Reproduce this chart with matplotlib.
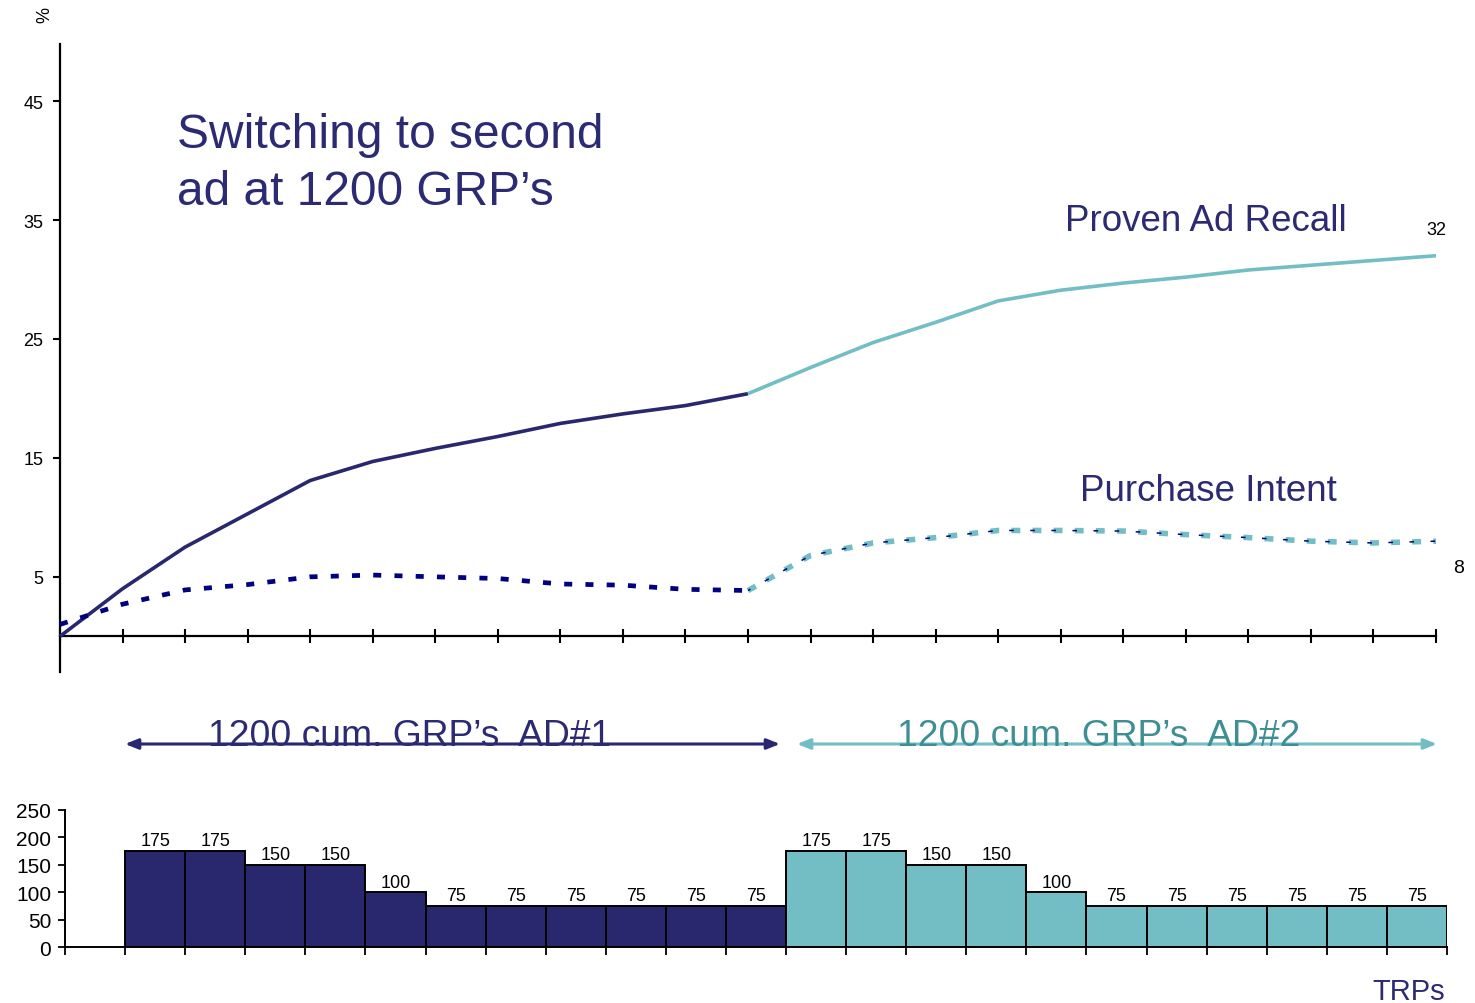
import numpy as np
import matplotlib
matplotlib.use('Agg')
import matplotlib.pyplot as plt
from matplotlib.patches import FancyArrowPatch

plt.rcParams['font.family'] = ['Liberation Sans', 'DejaVu Sans']

# --- data ---
weeks = np.arange(23)
recall_ad1 = [0, 4.0, 7.5, 10.3, 13.1, 14.7, 15.8, 16.8, 17.9, 18.7, 19.4, 20.4]
recall_ad2 = [20.4, 22.6, 24.7, 26.4, 28.2, 29.1, 29.7, 30.2, 30.8, 31.2, 31.6, 32.0]
intent_ad1 = [1.0, 2.7, 3.9, 4.35, 5.0, 5.15, 5.0, 4.86, 4.4, 4.3, 3.95, 3.85]
intent_ad2 = [3.85, 6.8, 7.85, 8.3, 8.9, 8.9, 8.85, 8.55, 8.3, 8.0, 7.85, 8.0]

trps_ad1 = [175, 175, 150, 150, 100, 75, 75, 75, 75, 75, 75]
trps_ad2 = [175, 175, 150, 150, 100, 75, 75, 75, 75, 75, 75]

y_ticks_top = [5, 15, 25, 35, 45]
y_ticks_bar = [0, 50, 100, 150, 200, 250]

NAVY = '#29286f'
NAVY_DASH = '#000080'
TEAL = '#73bec4'
TEAL_TEXT = '#3e8f94'
TITLE = '#2b2a73'

W, H = 1475, 1004
fx = lambda x: x / W
fy = lambda y: 1 - y / H

fig = plt.figure(figsize=(W / 100, H / 100), dpi=100)
fig.patch.set_facecolor('white')

# ---------------- top: recall / intent lines ----------------
ax = fig.add_axes([fx(60), fy(673), fx(1436) - fx(60), fy(45) - fy(673)])
ax.set_xlim(0, 22)
ax.set_ylim(-3, 49.8)

x1 = weeks[:12]
x2 = weeks[11:]
ax.plot(x1, recall_ad1, color=NAVY, lw=2.6, solid_capstyle='butt', clip_on=False, zorder=3)
ax.plot(x2, recall_ad2, color=TEAL, lw=2.6, solid_capstyle='butt', clip_on=False, zorder=3)

ax.plot(x1, intent_ad1, color=NAVY_DASH, lw=3.4, linestyle=(0, (1.7, 2.8)),
        dash_capstyle='butt', clip_on=False, zorder=3)
ax.plot(x2, intent_ad2, color=TEAL, lw=4.0, linestyle=(0, (1.6, 2.2)),
        dash_capstyle='butt', clip_on=False, zorder=3)
ax.plot(x2, intent_ad2, color=NAVY_DASH, lw=1.1, linestyle=(15.0, (3.0, 10.8)),
        dash_capstyle='butt', clip_on=False, zorder=4)

ax.annotate(f'{recall_ad2[-1]:.0f}', (22, recall_ad2[-1]), xytext=(0, 19),
            textcoords='offset points', ha='center', va='center', fontsize=13)
ax.annotate(f'{intent_ad2[-1]:.0f}', (22, intent_ad2[-1]), xytext=(16, -19),
            textcoords='offset points', ha='center', va='center', fontsize=14)

ax.set_xticks(weeks)
ax.set_xticklabels([])
ax.set_yticks(y_ticks_top)
ax.set_yticklabels([str(v) for v in y_ticks_top], fontsize=13)
ax.tick_params(axis='x', direction='inout', length=10, width=1.5)
ax.tick_params(axis='y', direction='out', length=5, width=1.5, pad=7)
ax.spines['bottom'].set_position(('data', 0))
for s in ['top', 'right']:
    ax.spines[s].set_visible(False)
for s in ['bottom', 'left']:
    ax.spines[s].set_linewidth(1.6)
ax.set_facecolor('none')

# ---------------- bottom: weekly TRPs ----------------
bx = fig.add_axes([fx(65), fy(948), fx(1447) - fx(65), fy(811) - fy(948)])
bx.set_xlim(0, 23)
bx.set_ylim(0, 250)
pos1 = np.arange(1, 12) + 0.5
pos2 = np.arange(12, 23) + 0.5
b1 = bx.bar(pos1, trps_ad1, width=1.0, color=NAVY, edgecolor='black', linewidth=1.4, zorder=2)
b2 = bx.bar(pos2, trps_ad2, width=1.0, color=TEAL, edgecolor='black', linewidth=1.4, zorder=2)
for bars, vals in [(b1, trps_ad1), (b2, trps_ad2)]:
    for rect, v in zip(bars, vals):
        bx.text(rect.get_x() + rect.get_width() / 2, v + 3, str(v),
                ha='center', va='bottom', fontsize=13)

bx.set_xticks(np.arange(24))
bx.set_xticklabels([])
bx.set_yticks(y_ticks_bar)
bx.set_yticklabels([str(v) for v in y_ticks_bar], fontsize=15)
bx.tick_params(axis='x', direction='out', length=6, width=1.3)
bx.tick_params(axis='y', direction='out', length=5, width=1.3, pad=5)
for s in ['top', 'right']:
    bx.spines[s].set_visible(False)
for s in ['bottom', 'left']:
    bx.spines[s].set_linewidth(1.4)
bx.set_facecolor('none')

# ---------------- annotations ----------------
fig.text(fx(45), fy(15), '%', rotation=90, ha='center', va='center', fontsize=13)
fig.text(fx(177), fy(148), 'Switching to second', color=TITLE, fontsize=34.5, va='baseline')
fig.text(fx(177), fy(205), 'ad at 1200 GRP\u2019s', color=TITLE, fontsize=34.5, va='baseline')
fig.text(fx(1065), fy(231), 'Proven Ad Recall', color=TITLE, fontsize=26.5, va='baseline')
fig.text(fx(1080), fy(501), 'Purchase Intent', color=TITLE, fontsize=26.5, va='baseline')

fig.text(fx(208), fy(746), '1200 cum. GRP\u2019s  AD#1', color=TITLE, fontsize=26.8,
         va='baseline')
fig.text(fx(897), fy(746), '1200 cum. GRP\u2019s  AD#2', color=TEAL_TEXT, fontsize=26.8,
         va='baseline')

arrow_kw = dict(arrowstyle='<|-|>,head_length=0.55,head_width=0.22', lw=2.2,
                shrinkA=0, shrinkB=0, mutation_scale=14, transform=fig.transFigure)
fig.add_artist(FancyArrowPatch((fx(125), fy(745)), (fx(780), fy(745)),
                               color=NAVY, **arrow_kw))
fig.add_artist(FancyArrowPatch((fx(797), fy(745)), (fx(1437), fy(745)),
                               color=TEAL, **arrow_kw))

fig.text(fx(1372), fy(1000), 'TRPs', color=TITLE, fontsize=21, va='baseline')

fig.savefig('out.png', dpi=100, facecolor='white')
